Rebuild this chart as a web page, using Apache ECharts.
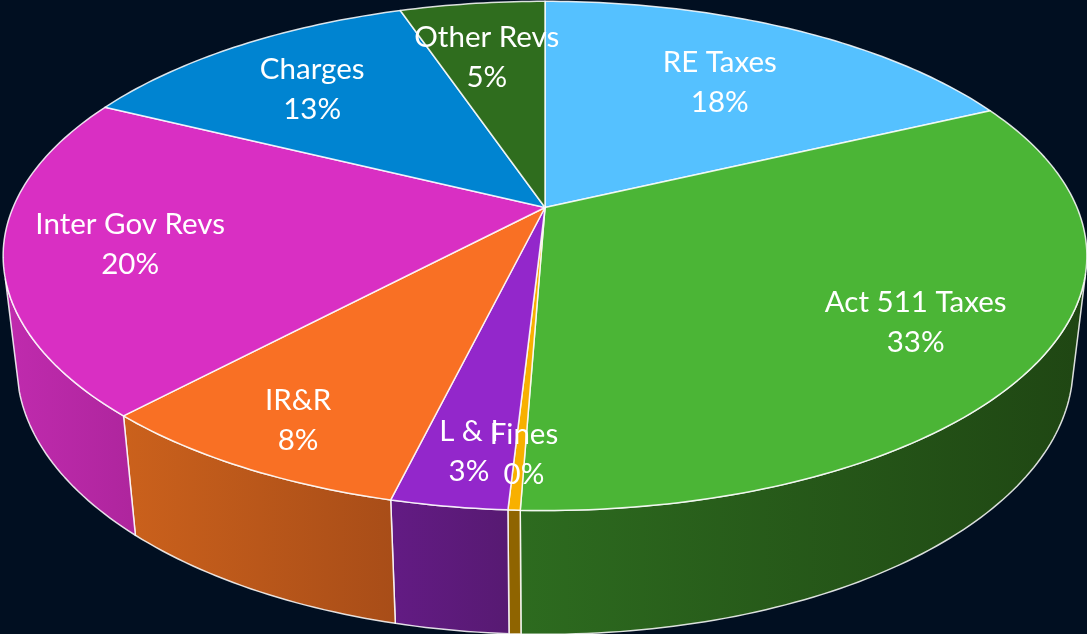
<!DOCTYPE html>
<html>
<head>
<meta charset="utf-8">
<title>Revenues</title>
<script src="https://cdn.jsdelivr.net/npm/echarts@6/dist/echarts.min.js"></script>
<style>
  html, body { margin: 0; padding: 0; background: #010f21; }
  #main { width: 1087px; height: 634px; }
</style>
</head>
<body>
<div id="main"></div>
<script>
// slices, clockwise from 12 o'clock
const categories = ['RE Taxes', 'Act 511 Taxes', 'Fines', 'L & I', 'IR&R', 'Inter Gov Revs', 'Charges', 'Other Revs']
const values = [18.0, 32.6, 0.3, 2.9, 8.15, 20.35, 12.5, 5.2]

const topColors = ['#55c1ff', '#4bb536', '#f8b000', '#9327cb', '#f97024', '#d92fc3', '#0084d1', '#2f6d1e']
const wallColors = [
  ['#3a83ad', '#3a83ad'],
  ['#2d6b1f', '#1f4613'],
  ['#8f6400', '#8f6400'],
  ['#631b84', '#571a72'],
  ['#cb611c', '#a84d18'],
  ['#c02bae', '#ae259d'],
  ['#005a8e', '#005a8e'],
  ['#204a14', '#204a14']
]
// how far out each label sits along the slice middle (0 centre, 1 rim)
const labelRadius = [0.68, 0.77, 0.84, 0.84, 0.84, 0.77, 0.72, 0.71]
// sideways nudge of each label in px
const labelNudge = [0, -1, 4, 2, 0, -1, -4, -4]

// perspective of the tilted disc, fitted to the picture
const view = { cx: 545, cy: 207.5, a: 532, b: 245.4, k: 0.19, depth: 111, shrink: 0.025 }
// part of the side wall that can be seen, degrees clockwise from 12 o'clock
const wallFrom = 105
const wallTo = 254

const total = values.reduce((s, v) => s + v, 0)
const starts = []
values.reduce((s, v, i) => { starts[i] = s; return s + v / total * 360 }, 0)

function project(deg, r, lower) {
  const t = deg * Math.PI / 180
  const u = Math.sin(t) * r
  const v = -Math.cos(t) * r
  const w = 1 - view.k * v + (lower ? view.shrink : 0)
  return [
    view.cx + view.a * u / w,
    view.cy + (view.b * v + (lower ? view.depth : 0)) / w
  ]
}

function arc(from, to, lower) {
  const pts = []
  const n = Math.max(2, Math.ceil(Math.abs(to - from)))
  for (let i = 0; i <= n; i++) {
    pts.push(project(from + (to - from) * i / n, 1, lower))
  }
  return pts
}

function sliceEnd(i) {
  return starts[i] + values[i] / total * 360
}

const edge = { stroke: 'rgba(255,255,255,0.85)', lineWidth: 1.5, lineJoin: 'round' }

function renderWall(params) {
  const i = params.dataIndex
  const from = Math.max(starts[i], wallFrom)
  const to = Math.min(sliceEnd(i), wallTo)
  if (to <= from) return null
  const points = arc(from, to, false).concat(arc(from, to, true).reverse())
  return {
    type: 'polygon',
    shape: { points: points },
    style: Object.assign({
      fill: new echarts.graphic.LinearGradient(0, 0, 1, 0, [
        { offset: 0, color: wallColors[i][0] },
        { offset: 1, color: wallColors[i][1] }
      ])
    }, edge)
  }
}

function renderTop(params) {
  const i = params.dataIndex
  const points = [[view.cx, view.cy]].concat(arc(starts[i], sliceEnd(i), false))
  return {
    type: 'polygon',
    shape: { points: points },
    style: Object.assign({ fill: topColors[i] }, edge)
  }
}

function renderLabel(params) {
  const i = params.dataIndex
  const pos = project((starts[i] + sliceEnd(i)) / 2, labelRadius[i], false)
  return {
    type: 'text',
    x: pos[0] + labelNudge[i],
    y: pos[1] + 2,
    style: {
      text: categories[i] + '\n' + Math.round(values[i]) + '%',
      fill: '#fff',
      font: '29.5px Lato',
      lineHeight: 40,
      align: 'center',
      verticalAlign: 'middle'
    }
  }
}

const myChart = echarts.init(document.getElementById('main'))
myChart.setOption({
  animation: false,
  backgroundColor: '#010f21',
  series: [
    { type: 'custom', coordinateSystem: 'none', silent: true, clip: false, z: 1, data: values, renderItem: renderWall },
    { type: 'custom', coordinateSystem: 'none', silent: true, clip: false, z: 2, data: values, renderItem: renderTop },
    { type: 'custom', coordinateSystem: 'none', silent: true, clip: false, z: 3, data: values, renderItem: renderLabel }
  ]
})
</script>
</body>
</html>
